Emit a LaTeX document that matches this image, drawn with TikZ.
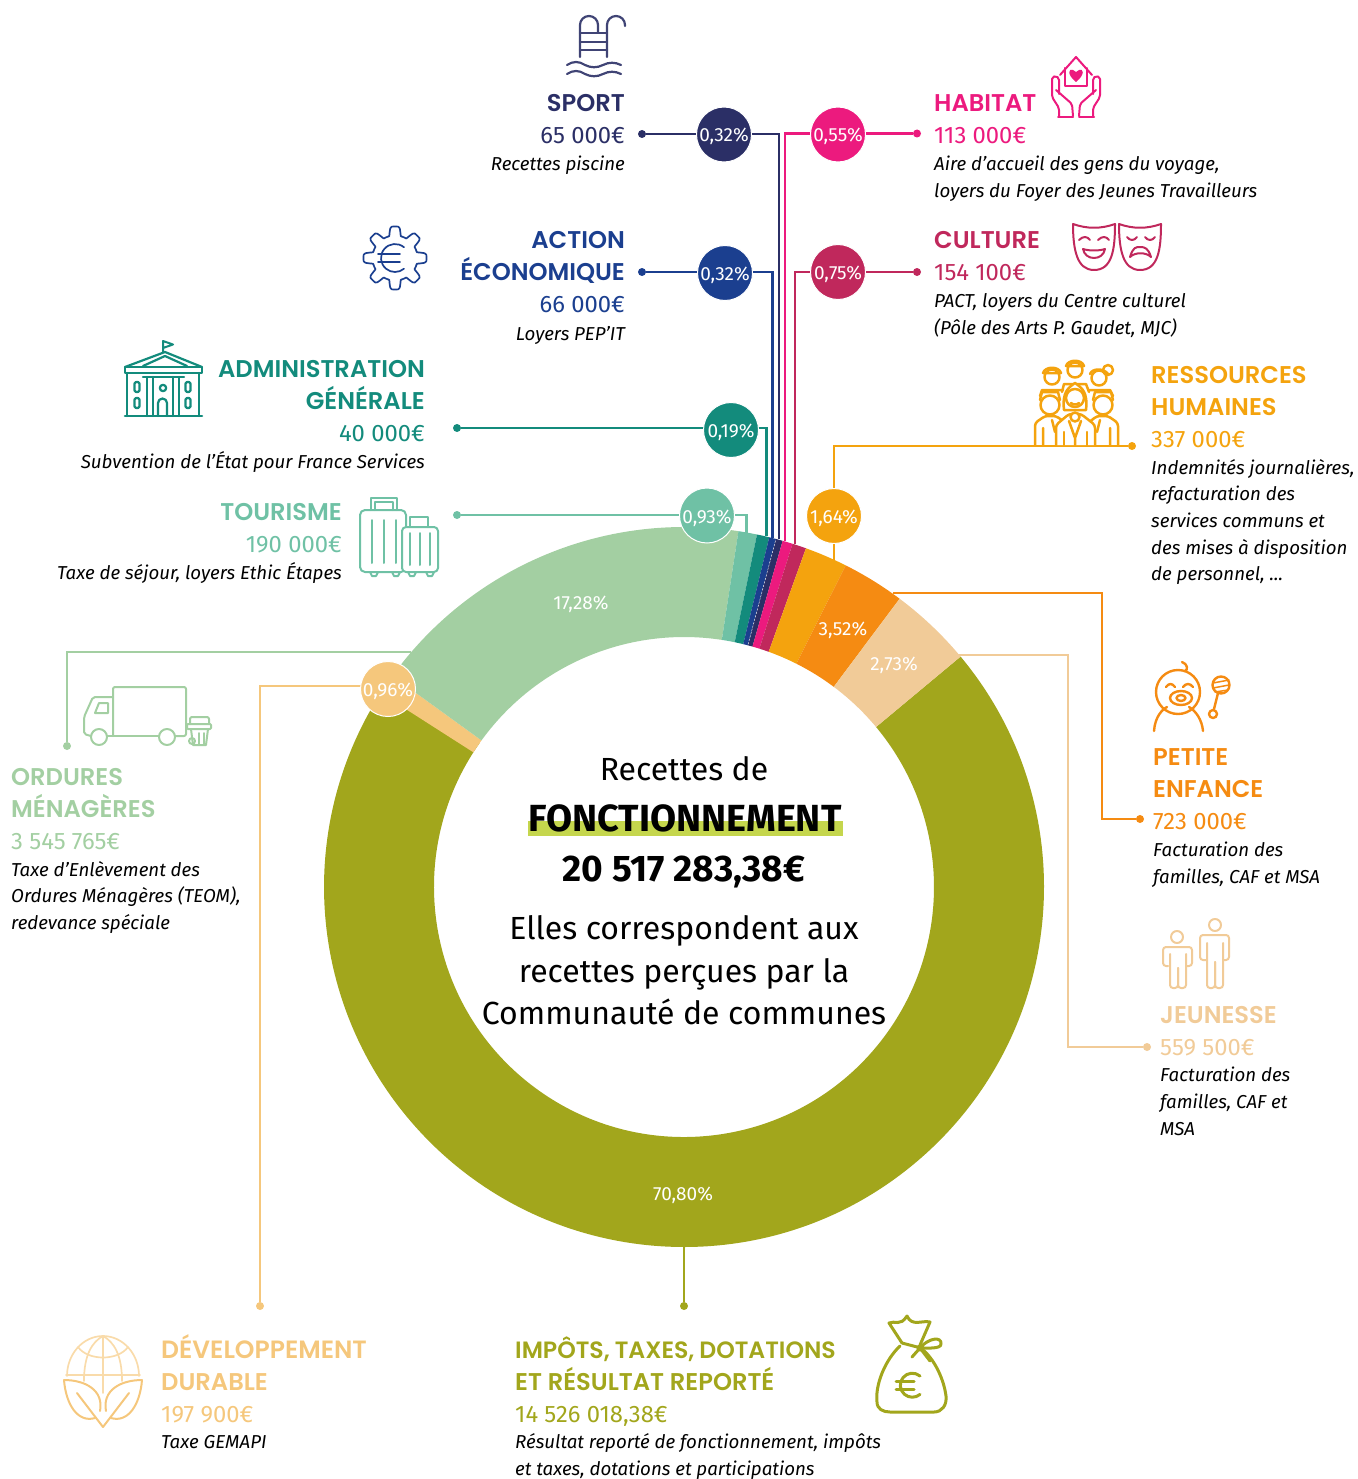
\documentclass[tikz,border=0pt]{standalone}
\usepackage{fontspec}
\setmainfont{Fira Sans}
\newfontfamily\hdfont{Poppins SemiBold}
\newfontfamily\amtfont{Fira Sans}
\usetikzlibrary{backgrounds}
\definecolor{csport}{HTML}{2B2F66}
\definecolor{ceco}{HTML}{1B3F8F}
\definecolor{cadm}{HTML}{138B7C}
\definecolor{ctou}{HTML}{6FC1A5}
\definecolor{cord}{HTML}{A3CFA2}
\definecolor{cdd}{HTML}{F5C77C}
\definecolor{cimp}{HTML}{A2A61C}
\definecolor{crh}{HTML}{F4A30E}
\definecolor{cpe}{HTML}{F58B12}
\definecolor{cjeu}{HTML}{F1CB98}
\definecolor{chab}{HTML}{EC1A7E}
\definecolor{ccul}{HTML}{C0285C}
\definecolor{cmark}{HTML}{C5D64D}
\tikzset{
  hd/.style={anchor=base,inner sep=0pt,font=\hdfont\fontsize{24.2}{27}\selectfont},
  amt/.style={anchor=base,inner sep=0pt,font=\amtfont\fontsize{23.8}{27}\selectfont},
  dsc/.style={anchor=base,inner sep=0pt,text=black,font=\itshape\fontsize{18.7}{24}\selectfont},
  ctr/.style={anchor=base,inner sep=0pt,text=black,font=\fontsize{32}{38}\selectfont},
  ctrb/.style={anchor=base,inner sep=0pt,text=black,font=\bfseries\fontsize{37}{42}\selectfont},
  pct/.style={circle,inner sep=0pt,minimum size=55,draw=white,line width=1,text=white,text height=15pt,text depth=0pt,font=\fontsize{19}{20}\selectfont},
  lab/.style={inner sep=0pt,text=white,font=\fontsize{19}{20}\selectfont},
  dot/.style={circle,inner sep=0pt,minimum size=8},
  conn/.style={line width=2.8},
  ic/.style={line width=2,line cap=round,line join=round}
}
\newcommand{\seg}[3]{\fill[#3] ({-#1}:360) arc[start angle={-#1},end angle={-#2},radius=360] -- ({-#2}:250) arc[start angle={-#2},end angle={-#1},radius=250] -- cycle;}
\begin{document}
\begin{tikzpicture}[x=1pt,y=-1pt]
\useasboundingbox (0,0) rectangle (1357,1479);
% percentage circles
\node[pct,fill=csport] (psport) at (724,134.5) {0,32\%};
\node[pct,fill=chab] (phab) at (838,134.5) {0,55\%};
\node[pct,fill=ceco] (peco) at (725,273) {0,32\%};
\node[pct,fill=ccul] (pcul) at (838,272) {0,75\%};
\node[pct,fill=cadm] (padm) at (731,430) {0,19\%};
\node[pct,fill=ctou] (ptou) at (707,515.5) {0,93\%};
\node[pct,fill=crh] (prh) at (834,516) {1,64\%};
\node[pct,fill=cdd] (pdd) at (388,689) {0,96\%};
% end dots
\node[dot,fill=csport] (dsport) at (642,134) {};
\node[dot,fill=chab] (dhab) at (917,133.5) {};
\node[dot,fill=ceco] (deco) at (642,272) {};
\node[dot,fill=ccul] (dcul) at (917,272) {};
\node[dot,fill=cadm] (dadm) at (457,428) {};
\node[dot,fill=ctou] (dtou) at (457,515) {};
\node[dot,fill=crh] (drh) at (1132,446) {};
\node[dot,fill=cpe] (dpe) at (1140,819) {};
\node[dot,fill=cjeu] (djeu) at (1147,1047) {};
\node[dot,fill=cord] (dord) at (67,746) {};
\node[dot,fill=cdd] (ddd) at (260,1306) {};
\node[dot,fill=cimp] (dimp) at (684,1306) {};
% ring ends and elbows
\coordinate (ssport) at (779,539);
\coordinate (shab) at (785,541);
\coordinate (seco) at (772.6,538);
\coordinate (scul) at (795,544);
\coordinate (sadm) at (766.7,536);
\coordinate (stou) at (746.5,533);
\coordinate (srh) at (834,561);
\coordinate (spe) at (893,593);
\coordinate (epe) at (1102,819);
\coordinate (sjeu) at (955,655);
\coordinate (ejeu) at (1068,1047);
\coordinate (sord) at (411,652);
\coordinate (sdd) at (380,686);
\coordinate (simp) at (684,1246);
\begin{scope}[on background layer]
\begin{scope}[shift={(684,887)}]
\seg{39.8}{-215.2}{cimp}
\seg{147.4}{144.1}{cdd}
\seg{144.1}{81.3}{cord}
\seg{81.3}{78.3}{ctou}
\seg{78.3}{76.3}{cadm}
\seg{76.3}{75.2}{ceco}
\seg{75.2}{74.1}{csport}
\seg{74.1}{72.45}{chab}
\seg{72.45}{70.2}{ccul}
\seg{70.2}{63.3}{crh}
\seg{63.3}{53.2}{cpe}
\seg{53.2}{39.8}{cjeu}
\draw[white,line width=0.4,dash pattern=on 2pt off 1.5pt] (-75.2:251) -- (-75.2:359);
\end{scope}
\draw[conn,csport] (dsport) -| (ssport);
\draw[conn,chab] (dhab) -| (shab);
\draw[conn,ceco] (deco) -| (seco);
\draw[conn,ccul] (dcul) -| (scul);
\draw[conn,cadm] (dadm) -| (sadm);
\draw[conn,ctou] (dtou) -| (stou);
\draw[conn,crh] (drh) -| (srh);
\draw[conn,cpe] (spe) -| (epe) -- (dpe);
\draw[conn,cjeu] (sjeu) -| (ejeu) -- (djeu);
\draw[conn,cord] (dord) |- (sord);
\draw[conn,cdd] (ddd) |- (sdd);
\draw[conn,cimp] (dimp) -- (simp);
\fill[cmark] (528,821) rectangle (843,836);
\end{scope}
% ring labels
\node[lab] (l1) at (581,604) {17,28\%};
\node[lab] (l2) at (843,630) {3,52\%};
\node[lab] (l3) at (894,665) {2,73\%};
\node[lab] (l4) at (683,1195) {70,80\%};
% centre text
\node[ctr] (c1) at (684,780) {Recettes de};
\node[ctrb,font=\bfseries\fontsize{37.8}{42}\selectfont] (c2) at (685,831) {FONCTIONNEMENT};
\node[ctrb] (c3) at (684,881) {20 517 283,38€};
\node[ctr] (c4) at (684,939) {Elles correspondent aux};
\node[ctr] (c5) at (684,982) {recettes perçues par la};
\node[ctr] (c6) at (684,1024) {Communauté de communes};
% SPORT
\node[hd,anchor=base east,text=csport] (t1a) at (625,111.5) {SPORT};
\node[amt,anchor=base east,text=csport] (t1b) at (625,144) {65 000€};
\node[dsc,anchor=base east] (t1c) at (625,171) {Recettes piscine};
% ACTION
\node[hd,anchor=base east,text=ceco] (t2a) at (625,248.5) {ACTION};
\node[hd,anchor=base east,text=ceco] (t2b) at (625,280.5) {ÉCONOMIQUE};
\node[amt,anchor=base east,text=ceco] (t2c) at (625,312) {66 000€};
\node[dsc,anchor=base east] (t2d) at (625,340) {Loyers PEP’IT};
% ADMIN
\node[hd,anchor=base east,text=cadm] (t3a) at (425,377.5) {ADMINISTRATION};
\node[hd,anchor=base east,text=cadm] (t3b) at (425,409.5) {GÉNÉRALE};
\node[amt,anchor=base east,text=cadm] (t3c) at (425,441) {40 000€};
\node[dsc,anchor=base east] (t3d) at (425,468) {Subvention de l’État pour France Services};
% TOURISME
\node[hd,anchor=base east,text=ctou] (t4a) at (342,520.5) {TOURISME};
\node[amt,anchor=base east,text=ctou] (t4b) at (342,552) {190 000€};
\node[dsc,anchor=base east] (t4c) at (342,579) {Taxe de séjour, loyers Ethic Étapes};
% HABITAT
\node[hd,anchor=base west,text=chab] (t5a) at (934,111.5) {HABITAT};
\node[amt,anchor=base west,text=chab] (t5b) at (934,144) {113 000€};
\node[dsc,anchor=base west] (t5c) at (934,171) {Aire d’accueil des gens du voyage,};
\node[dsc,anchor=base west] (t5d) at (934,198) {loyers du Foyer des Jeunes Travailleurs};
% CULTURE
\node[hd,anchor=base west,text=ccul] (t6a) at (934,248.5) {CULTURE};
\node[amt,anchor=base west,text=ccul] (t6b) at (934,280) {154 100€};
\node[dsc,anchor=base west] (t6c) at (934,307) {PACT, loyers du Centre culturel};
\node[dsc,anchor=base west] (t6d) at (934,334) {(Pôle des Arts P. Gaudet, MJC)};
% RH
\node[hd,anchor=base west,text=crh] (t7a) at (1151,383.5) {RESSOURCES};
\node[hd,anchor=base west,text=crh] (t7b) at (1151,415.5) {HUMAINES};
\node[amt,anchor=base west,text=crh] (t7c) at (1151,447) {337 000€};
\node[dsc,anchor=base west] (t7d) at (1151,474) {Indemnités journalières,};
\node[dsc,anchor=base west] (t7e) at (1151,500) {refacturation des};
\node[dsc,anchor=base west] (t7f) at (1151,527) {services communs et};
\node[dsc,anchor=base west] (t7g) at (1151,554) {des mises à disposition};
\node[dsc,anchor=base west] (t7h) at (1151,580) {de personnel, ...};
% PE
\node[hd,anchor=base west,text=cpe] (t8a) at (1153,765.5) {PETITE};
\node[hd,anchor=base west,text=cpe] (t8b) at (1153,797.5) {ENFANCE};
\node[amt,anchor=base west,text=cpe] (t8c) at (1153,829) {723 000€};
\node[dsc,anchor=base west] (t8d) at (1153,856) {Facturation des};
\node[dsc,anchor=base west] (t8e) at (1153,883) {familles, CAF et MSA};
% JEUNESSE
\node[hd,anchor=base west,text=cjeu] (t9a) at (1160,1023.5) {JEUNESSE};
\node[amt,anchor=base west,text=cjeu] (t9b) at (1160,1055) {559 500€};
\node[dsc,anchor=base west] (t9c) at (1160,1081) {Facturation des};
\node[dsc,anchor=base west] (t9d) at (1160,1108) {familles, CAF et};
\node[dsc,anchor=base west] (t9e) at (1160,1135) {MSA};
% IMPOTS
\node[hd,anchor=base west,text=cimp,font=\hdfont\fontsize{23.6}{27}\selectfont] (t10a) at (515,1358.5) {\spaceskip=0.21em IMPÔTS, TAXES, DOTATIONS};
\node[hd,anchor=base west,text=cimp] (t10b) at (515,1390.5) {ET RÉSULTAT REPORTÉ};
\node[amt,anchor=base west,text=cimp] (t10c) at (515,1422) {14 526 018,38€};
\node[dsc,anchor=base west] (t10d) at (515,1448) {Résultat reporté de fonctionnement, impôts};
\node[dsc,anchor=base west] (t10e) at (515,1475) {et taxes, dotations et participations};
% DD
\node[hd,anchor=base west,text=cdd,font=\hdfont\fontsize{25}{27}\selectfont] (t11a) at (161,1358.5) {DÉVELOPPEMENT};
\node[hd,anchor=base west,text=cdd] (t11b) at (161,1390.5) {DURABLE};
\node[amt,anchor=base west,text=cdd] (t11c) at (161,1422) {197 900€};
\node[dsc,anchor=base west] (t11d) at (161,1448) {Taxe GEMAPI};
% ORDURES
\node[hd,anchor=base west,text=cord] (t12a) at (11,785.5) {ORDURES};
\node[hd,anchor=base west,text=cord] (t12b) at (11,817.5) {MÉNAGÈRES};
\node[amt,anchor=base west,text=cord] (t12c) at (11,849) {3 545 765€};
\node[dsc,anchor=base west] (t12d) at (11,876) {Taxe d’Enlèvement des};
\node[dsc,anchor=base west] (t12e) at (11,902) {Ordures Ménagères (TEOM),};
\node[dsc,anchor=base west] (t12f) at (11,929) {redevance spéciale};
% ---- icons ----
% pool
\begin{scope}[ic,csport!90!white,line width=2.2]
\draw (580,57) -- (580,25) arc[start angle=180,end angle=360,radius=9] -- (598,32);
\draw (607,57) -- (607,25) arc[start angle=180,end angle=360,radius=9] -- (625,26);
\draw (580,33) -- (607,33) (580,42) -- (607,42) (580,50) -- (607,50);
\draw (567,65) .. controls (573,61) and (579,61) .. (585,65) .. controls (591,68) and (597,68) .. (603,65) .. controls (609,62) and (615,62) .. (621,65);
\draw (567,74) .. controls (573,70) and (579,70) .. (585,74) .. controls (591,77) and (597,77) .. (603,74) .. controls (609,71) and (615,71) .. (621,74);
\end{scope}
% gear
\begin{scope}[ic,ceco,shift={(395,258)}]
\draw[line width=1.7] plot[domain=0:360,samples=121,smooth] (\x:{27+4.5*min(1,max(-1,2.2*cos(8*\x)))}) -- cycle;
\draw[line width=1.7] (-50:14) arc[start angle=-50,end angle=-310,radius=14];
\draw[line width=1.7] (-17,-4) -- (5,-4) (-17,4) -- (5,4);
\end{scope}
% building
\begin{scope}[ic,cadm,line width=2.2]
\draw[line width=2] (163,352) -- (163,341) -- (173,344.5) -- (163,348);
\draw (125,367) -- (165,352) -- (202,367);
\draw (143,366) -- (165,356) -- (187,366);
\draw (125,367) rectangle (202,373);
\draw (127,373) -- (127,416) (199,373) -- (199,416);
\draw[line width=2.6] (125,416) -- (202,416);
\draw (143,377) -- (184,377);
\draw (147,377) -- (147,416) (153,377) -- (153,416) (173,377) -- (173,416) (179,377) -- (179,416);
\draw (158,416) -- (158,403) arc[start angle=180,end angle=360,radius=4.5] -- (167,416);
\draw (163,388) circle[radius=3.2];
\foreach \wx in {137,188}{\foreach \wy in {387,403}{
\draw[rounded corners=1.5] (\wx-2.5,\wy-5) rectangle (\wx+2.5,\wy+5);}}
\end{scope}
% suitcases
\begin{scope}[ic,ctou]
\draw[rounded corners=5] (360,510) rectangle (406,572);
\draw (371,510) -- (371,498) -- (397,498) -- (397,510) (375,510) -- (375,502) -- (393,502) -- (393,510);
\draw (372,520) -- (372,563) (384,520) -- (384,563) (396,520) -- (396,563);
\draw[fill=white,rounded corners=4] (402,527) rectangle (438,572);
\draw (410,527) -- (410,517) -- (428,517) -- (428,527);
\draw (410,533) -- (410,565) (420,533) -- (420,565) (430,533) -- (430,565);
\draw (370,572) -- (372,576) -- (376,576) -- (378,572) (392,572) -- (394,576) -- (398,576) -- (400,572);
\draw (408,572) -- (410,576) -- (414,576) -- (416,572) (426,572) -- (428,576) -- (432,576) -- (434,572);
\end{scope}
% truck
\begin{scope}[ic,cord]
\draw[rounded corners=2] (113,736) -- (113,687) -- (186,687) -- (186,736) -- (175,736);
\draw (159,736) -- (107,736);
\draw[rounded corners=2] (113,697) -- (93,697) -- (84,717) -- (84,734) -- (91,736);
\draw (95,713) -- (99,703) -- (108,703) -- (108,713) -- cycle;
\draw (99,737) circle[radius=8] (167,737) circle[radius=8];
\draw[rounded corners=2] (190,724) -- (190,717) -- (209,717) -- (209,724);
\draw[rounded corners=1] (187,724) rectangle (211,729);
\draw (191,729) -- (193,745) -- (206,745) -- (208,729);
\draw (192,741) circle[radius=3];
\draw (199,733) -- (199,744) (204,733) -- (204,744);
\end{scope}
% habitat hands
\begin{scope}[ic,chab]
\draw (1060,75) -- (1076,57) -- (1092,75);
\draw (1065,68) -- (1065,86) -- (1087,86) -- (1087,68);
\fill (1076,82) .. controls (1066,74) and (1069,68) .. (1073,70) .. controls (1075,70.5) .. (1076,72) .. controls (1077,70.5) .. (1079,70) .. controls (1083,68) and (1086,74) .. (1076,82) -- cycle;
\draw (1058,117) -- (1073,117) (1094,117) -- (1079,117);
\draw[rounded corners=2] (1059,116) -- (1059,108) -- (1052,97) -- (1052,77) -- (1056,76) -- (1059,78) -- (1059,94);
\draw[rounded corners=2] (1056,90) -- (1072,104) -- (1073,116);
\draw[rounded corners=2] (1093,116) -- (1093,108) -- (1100,97) -- (1100,77) -- (1096,76) -- (1093,78) -- (1093,94);
\draw[rounded corners=2] (1096,90) -- (1080,104) -- (1079,116);
\end{scope}
% masks
\begin{scope}[ic,ccul]
\draw (1073,224) .. controls (1087,229) and (1101,229) .. (1115,224) .. controls (1115,250) and (1112,270) .. (1094,270) .. controls (1077,270) and (1073,250) .. (1073,224) -- cycle;
\draw (1079,240) .. controls (1083,236) and (1087,236) .. (1090,240) (1098,240) .. controls (1102,236) and (1106,236) .. (1109,240);
\draw (1083,249) .. controls (1089,251) and (1099,251) .. (1105,249) .. controls (1103,261) and (1085,261) .. (1083,249) -- cycle;
\draw (1119,224) .. controls (1133,229) and (1147,229) .. (1161,224) .. controls (1161,250) and (1158,270) .. (1140,270) .. controls (1123,270) and (1119,250) .. (1119,224) -- cycle;
\draw (1127,237) .. controls (1130,241) and (1134,241) .. (1137,237) (1145,237) .. controls (1148,241) and (1152,241) .. (1155,237);
\draw (1130,257) .. controls (1133,247) and (1136,247) .. (1140,247) .. controls (1145,247) and (1148,248) .. (1151,257) .. controls (1146,252) and (1135,252) .. (1130,257) -- cycle;
\end{scope}
% people
\begin{scope}[ic,crh,line width=2.5]
% back row
\draw (1075,370) circle[radius=7.5];
\draw (1066,366) .. controls (1068,359) and (1082,359) .. (1084,366) -- cycle;
\draw (1062,392) -- (1064,384) -- (1086,384) -- (1089,392);
\draw (1052,377) circle[radius=7.5];
\draw (1043,373) .. controls (1045,366) and (1059,366) .. (1061,373) -- cycle;
\draw (1040,396) -- (1042,390) -- (1063,390);
\draw (1099,378) circle[radius=7.5];
\draw (1108,370) circle[radius=5];
\draw (1090,374) .. controls (1092,368) and (1104,368) .. (1108,374);
\draw (1089,390) -- (1110,390) -- (1113,396);
% left front
\draw[fill=white] (1050,405) circle[radius=9.5];
\draw (1040,400) -- (1042,392) -- (1058,392) -- (1060,400);
\draw[rounded corners=3] (1035,445) -- (1035,423) -- (1045,416) -- (1056,416) -- (1066,423);
\draw (1043,428) -- (1043,445) (1052,420) -- (1055,432);
% right front
\draw[fill=white] (1103,405) circle[radius=9.5];
\draw (1093,400) -- (1095,392) -- (1111,392) -- (1113,400);
\draw[rounded corners=3] (1118,445) -- (1118,423) -- (1108,416) -- (1097,416) -- (1088,423);
\draw (1110,428) -- (1110,445) (1100,420) -- (1097,432);
% centre front
\draw[fill=white] (1064,410) .. controls (1062,392) and (1068,388) .. (1075,383) .. controls (1082,388) and (1088,392) .. (1086,410) -- cycle;
\draw[fill=white] (1075,398) circle[radius=9];
\draw (1071,403) .. controls (1073,405) and (1077,405) .. (1079,403);
\draw[fill=white,rounded corners=3] (1056,445) -- (1056,425) -- (1069,414) -- (1081,414) -- (1095,425) -- (1095,445);
\draw[fill=white] (1075,417) circle[radius=4.5];
\draw (1069,421) -- (1075,438) -- (1081,421) (1075,438) -- (1075,445);
\draw (1064,432) -- (1064,445) (1087,432) -- (1087,445);
\end{scope}
% baby and rattle
\begin{scope}[ic,cpe,line width=2.4]
\draw (1178,692) circle[radius=22];
\draw (1182,662) .. controls (1188,664) and (1188,670) .. (1185,671);
\draw (1166,687) .. controls (1169,683) and (1172,683) .. (1175,687) (1183,687) .. controls (1186,683) and (1190,683) .. (1193,687);
\draw (1181,698) ellipse[x radius=11,y radius=7];
\draw (1181,698) ellipse[x radius=4.5,y radius=3];
\draw (1154,731) .. controls (1155,716) and (1163,709) .. (1167,707) (1189,707) .. controls (1196,711) and (1202,720) .. (1203,731);
\draw (1221,685) circle[radius=8.5];
\draw[line width=1.5] (1213,683) -- (1229,680) (1213,688) -- (1229,685) (1215,692) -- (1228,690);
\draw (1218,693) -- (1214,709);
\draw (1213,714) circle[radius=4];
\end{scope}
% two people
\begin{scope}[ic,cjeu]
\draw (1177,937) circle[radius=6] (1215,925) circle[radius=6];
\draw[rounded corners=3] (1168,966) -- (1163,966) -- (1163,947) -- (1192,947) -- (1192,966) -- (1187,966);
\draw[rounded corners=3] (1170,954) -- (1170,988) -- (1178,988) -- (1178,968);
\draw[rounded corners=3] (1178,968) -- (1178,988) -- (1186,988) -- (1186,954);
\draw[rounded corners=3] (1206,960) -- (1200,960) -- (1200,935) -- (1229,935) -- (1229,960) -- (1224,960);
\draw[rounded corners=3] (1207,943) -- (1207,988) -- (1215,988) -- (1215,962);
\draw[rounded corners=3] (1215,962) -- (1215,988) -- (1223,988) -- (1223,943);
\end{scope}
% globe
\begin{scope}[ic,cdd!65!white,line width=1.7]
\draw (67,1376) arc[start angle=180,end angle=360,x radius=36,y radius=40];
\draw (66,1375) -- (140,1375);
\draw (103,1336) -- (103,1393);
\draw (84,1381) .. controls (84,1355) and (92,1342) .. (103,1336) .. controls (114,1342) and (122,1355) .. (122,1381);
\draw (78,1347) .. controls (88,1361) and (118,1361) .. (128,1347);
\end{scope}
\begin{scope}[ic,cdd]
\draw (64,1380) .. controls (85,1380) and (104,1390) .. (100,1411);
\draw (64,1380) .. controls (66,1405) and (78,1423) .. (95,1418);
\draw (77,1393) -- (103,1427);
\draw (142,1380) .. controls (121,1380) and (102,1390) .. (106,1411);
\draw (142,1380) .. controls (140,1405) and (128,1423) .. (111,1418);
\draw (129,1393) -- (103,1427);
\end{scope}
% money bag
\begin{scope}[ic,cimp,line width=3]
\draw (902,1343) -- (889,1323) .. controls (895,1320) and (900,1327) .. (907,1316) .. controls (912,1327) and (922,1320) .. (930,1322) -- (920,1345);
\draw (902,1343) -- (921,1348);
\draw (900,1346) .. controls (885,1360) and (875,1385) .. (877,1402) .. controls (877,1409) and (883,1412) .. (890,1412) -- (934,1412) .. controls (942,1412) and (947,1405) .. (946,1396) .. controls (944,1380) and (935,1360) .. (923,1350);
\draw (920,1348) .. controls (928,1338) and (942,1336) .. (941,1344) .. controls (941,1349) and (928,1348) .. (920,1348) -- (930,1361);
\draw (920,1348) -- (912,1357);
\fill (920,1348) circle[radius=3.5];
\draw (920,1376) arc[start angle=-50,end angle=-310,radius=12];
\draw (896,1381) -- (914,1381) (896,1389) -- (914,1389);
\end{scope}
\end{tikzpicture}
\end{document}
